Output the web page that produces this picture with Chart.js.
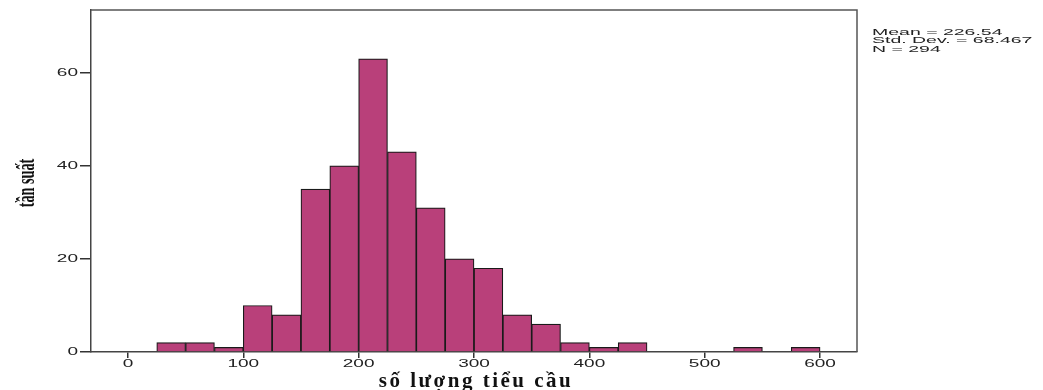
<!DOCTYPE html>
<html><head><meta charset="utf-8">
<script src="https://cdn.jsdelivr.net/npm/chart.js@4/dist/chart.umd.min.js"></script>
<style>html,body{margin:0;padding:0;background:#fff}#wrap{width:1043px;height:390px}</style>
</head><body><div id="wrap"><canvas id="c" width="1043" height="390"></canvas></div>
<script>
const binStarts = [25,50,75,100,125,150,175,200,225,250,275,300,325,350,375,400,425,450,475,500,525,550,575];
const counts    = [2,2,1,10,8,35,40,63,43,31,20,18,8,6,2,1,2,0,0,0,1,0,1];
const binWidth = 25;
const xTickValues = [0,100,200,300,400,500,600];
const yTickValues = [0,20,40,60];
const xTitle = 'số lượng tiểu cầu';
const yTitle = 'tần suất';
const statLines = ['Mean = 226.54','Std. Dev. = 68.467','N = 294'];

const points = binStarts.map((s,i)=>({x: s + binWidth/2, y: counts[i] > 0 ? counts[i] : null}));

function stretchText(ctx, text, x, y, sx, align){
  ctx.save();
  ctx.translate(x, y);
  ctx.scale(sx, 1);
  ctx.textAlign = align;
  ctx.fillText(text, 0, 0);
  ctx.restore();
}

const deco = {
  id: 'deco',
  afterDraw(chart){
    const ctx = chart.ctx, a = chart.chartArea;
    const xs = chart.scales.x, ys = chart.scales.y;
    ctx.save();
    // frame top/right
    ctx.strokeStyle = '#555';
    ctx.lineWidth = 1.5;
    ctx.beginPath();
    ctx.moveTo(a.left, a.top); ctx.lineTo(a.right, a.top); ctx.lineTo(a.right, a.bottom);
    ctx.stroke();
    // tick labels
    ctx.fillStyle = '#222';
    ctx.font = '10px "Liberation Sans", Arial, sans-serif';
    ctx.textBaseline = 'middle';
    xs.ticks.forEach(t=>{
      if (xTickValues.includes(t.value)) stretchText(ctx, String(t.value), xs.getPixelForValue(t.value), a.bottom + 12, 1.9, 'center');
    });
    ys.ticks.forEach(t=>{
      if (yTickValues.includes(t.value)) stretchText(ctx, String(t.value), a.left - 13, ys.getPixelForValue(t.value), 1.9, 'right');
    });
    // stats
    ctx.textBaseline = 'middle';
    ctx.font = '9.5px "Liberation Sans", Arial, sans-serif';
    statLines.forEach((s,i)=> stretchText(ctx, s, 872, 32 + i*8.6, 2.05, 'left'));
    // x title
    ctx.fillStyle = '#111';
    ctx.font = 'bold 21px "Liberation Serif", "Times New Roman", serif';
    ctx.textBaseline = 'alphabetic';
    ctx.textAlign = 'center';
    try { ctx.letterSpacing = '2.5px'; } catch(e){}
    ctx.fillText(xTitle, (a.left + a.right)/2 + 2, 387);
    try { ctx.letterSpacing = '0px'; } catch(e){}
    // y title
    ctx.save();
    ctx.translate(34, (a.top + a.bottom)/2 + 2);
    ctx.rotate(-Math.PI/2);
    ctx.scale(0.57, 1);
    ctx.font = 'bold 25px "Liberation Serif", "Times New Roman", serif';
    ctx.textAlign = 'center';
    ctx.textBaseline = 'alphabetic';
    ctx.fillText(yTitle, 0, 0);
    ctx.restore();
    ctx.restore();
  }
};

new Chart(document.getElementById('c'), {
  type: 'bar',
  data: { datasets: [{
    data: points,
    backgroundColor: '#B9407A',
    borderColor: '#1a1a1a',
    borderWidth: 1.2,
    barPercentage: 1.0,
    categoryPercentage: 1.0
  }]},
  options: {
    responsive: false,
    animation: false,
    events: [],
    layout: { padding: { left: 0, top: 10, right: 186, bottom: 0 } },
    plugins: { legend: { display: false }, tooltip: { enabled: false } },
    scales: {
      x: {
        type: 'linear', min: -32, max: 632, offset: false,
        afterBuildTicks(s){ s.ticks = xTickValues.map(v=>({value:v})); },
        afterFit(s){ s.height = 38; },
        ticks: { color: 'rgba(0,0,0,0)', font: { size: 10 }, padding: 2 },
        grid: { offset: false, drawOnChartArea: false, drawTicks: true, tickLength: 6, color: '#333', lineWidth: 1.5 },
        border: { display: true, color: '#444', width: 1.5 }
      },
      y: {
        type: 'linear', min: 0, max: 73.5,
        afterBuildTicks(s){ s.ticks = yTickValues.map(v=>({value:v})); },
        afterFit(s){ s.width = 91; },
        ticks: { color: 'rgba(0,0,0,0)', font: { size: 10 }, padding: 2 },
        grid: { offset: false, drawOnChartArea: false, drawTicks: true, tickLength: 11, color: '#333', lineWidth: 1.5 },
        border: { display: true, color: '#444', width: 1.5 }
      }
    }
  },
  plugins: [deco]
});
</script></body></html>
